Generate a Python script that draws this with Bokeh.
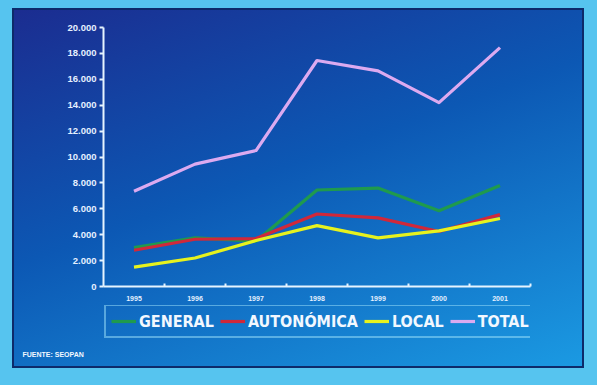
from bokeh.plotting import figure
from bokeh.models import (FixedTicker, Legend, LegendItem, Title, Range1d)
from bokeh.layouts import column
from bokeh.embed import file_html
from bokeh.resources import INLINE

# ---- data ----
years = [1995, 1996, 1997, 1998, 1999, 2000, 2001]
general = [3000, 3750, 3500, 7450, 7600, 5850, 7800]
autonomica = [2800, 3650, 3700, 5600, 5300, 4250, 5550]
local = [1500, 2200, 3550, 4700, 3750, 4300, 5250]
total = [7350, 9450, 10500, 17450, 16650, 14200, 18450]
series_names = ["GENERAL", "AUTONÓMICA", "LOCAL", "TOTAL"]
y_ticks = [0, 2000, 4000, 6000, 8000, 10000, 12000, 14000, 16000, 18000, 20000]
y_tick_labels = ["0", "2.000", "4.000", "6.000", "8.000", "10.000", "12.000",
                 "14.000", "16.000", "18.000", "20.000"]
source_note = "FUENTE: SEOPAN"

colors = ["#1f9a4e", "#d0283a", "#e6f21e", "#dcaaf0"]
FONT = "Liberation Sans"
NARROW = "DejaVu Sans Condensed"
series = [general, autonomica, local, total]

# ---- main chart ----
p = figure(width=597, height=305, output_backend="svg", toolbar_location=None,
           x_range=Range1d(years[0] - 0.5, years[-1] + 0.5),
           y_range=Range1d(0, 20000),
           min_border_left=103, min_border_right=67, min_border_top=27,
           min_border_bottom=19)
p.background_fill_alpha = 0
p.border_fill_alpha = 0
p.outline_line_color = None
p.grid.visible = False

for ax in (p.xaxis[0], p.yaxis[0]):
    ax.axis_line_color = "#e6f4ff"
    ax.axis_line_width = 2
    ax.major_label_text_color = "#e6f0ff"
    ax.major_label_text_font = FONT
    ax.major_label_text_font_style = "bold"

p.yaxis.ticker = FixedTicker(ticks=y_ticks)
p.yaxis.major_label_overrides = {t: l for t, l in zip(y_ticks, y_tick_labels)}
p.yaxis.major_tick_line_color = "#e6f4ff"
p.yaxis.major_tick_line_width = 2
p.yaxis.major_tick_in = 0
p.yaxis.major_tick_out = 4
p.yaxis.minor_tick_line_color = None
p.yaxis.major_label_text_font_size = "9.5px"
p.yaxis.major_label_standoff = 3

boundaries = [y + 0.5 for y in years]
p.xaxis.ticker = FixedTicker(ticks=years, minor_ticks=boundaries)
p.xaxis.major_label_overrides = {y: str(y) for y in years}
p.xaxis.major_tick_line_color = None
p.xaxis.minor_tick_line_color = "#e6f4ff"
p.xaxis.minor_tick_line_width = 2
p.xaxis.minor_tick_in = 3
p.xaxis.minor_tick_out = 0
p.xaxis.major_label_text_font_size = "7px"
p.xaxis.major_label_standoff = 3

for vals, col in zip(series, colors):
    p.line(years, vals, line_color=col, line_width=3.2, line_join="round")

# ---- legend strip (same series, drawn out of view; only the legend shows) ----
lf = figure(width=597, height=80, output_backend="svg", toolbar_location=None,
            x_range=Range1d(0, 1), y_range=Range1d(0, 1),
            min_border_left=0, min_border_right=0, min_border_top=0,
            min_border_bottom=37)
lf.background_fill_alpha = 0
lf.border_fill_alpha = 0
lf.outline_line_color = None
lf.grid.visible = False
lf.axis.visible = False

lrs = [lf.line(years, vals, line_color=col, line_width=3.2)
       for vals, col in zip(series, colors)]

legend = Legend(items=[LegendItem(label=n, renderers=[r])
                       for n, r in zip(series_names, lrs)],
                orientation="horizontal", location=(1, 10))
legend.label_text_color = "#f2f8ff"
legend.label_text_font = NARROW
legend.label_text_font_style = "bold"
legend.label_text_font_size = "16px"
legend.background_fill_alpha = 0
legend.border_line_color = "#9fe4fb"
legend.border_line_width = 2
legend.glyph_width = 25
legend.glyph_height = 20
legend.label_standoff = 3
legend.spacing = 6
legend.padding = 5
legend.margin = 0
legend.label_height = 20
lf.add_layout(legend, "center")

note = Title(text=source_note, align="left", text_color="#f2f8ff",
             text_font=FONT, text_font_style="bold", text_font_size="7px",
             offset=-81, standoff=0)
lf.add_layout(note, "below")

layout = column(p, lf, spacing=0, styles={
    "background": "linear-gradient(160deg, #1c2a8e 0%, #0c58b4 45%, #1c9fe6 100%)",
    "box-shadow": ("inset 12px 8px 0 0 #56c4ef, inset -13px -17px 0 0 #56c4ef, "
                   "inset 14px 10px 0 0 #0d2a6a, inset -15px -19px 0 0 #0d2a6a"),
})

open("out.html", "w").write(file_html(layout, INLINE))
